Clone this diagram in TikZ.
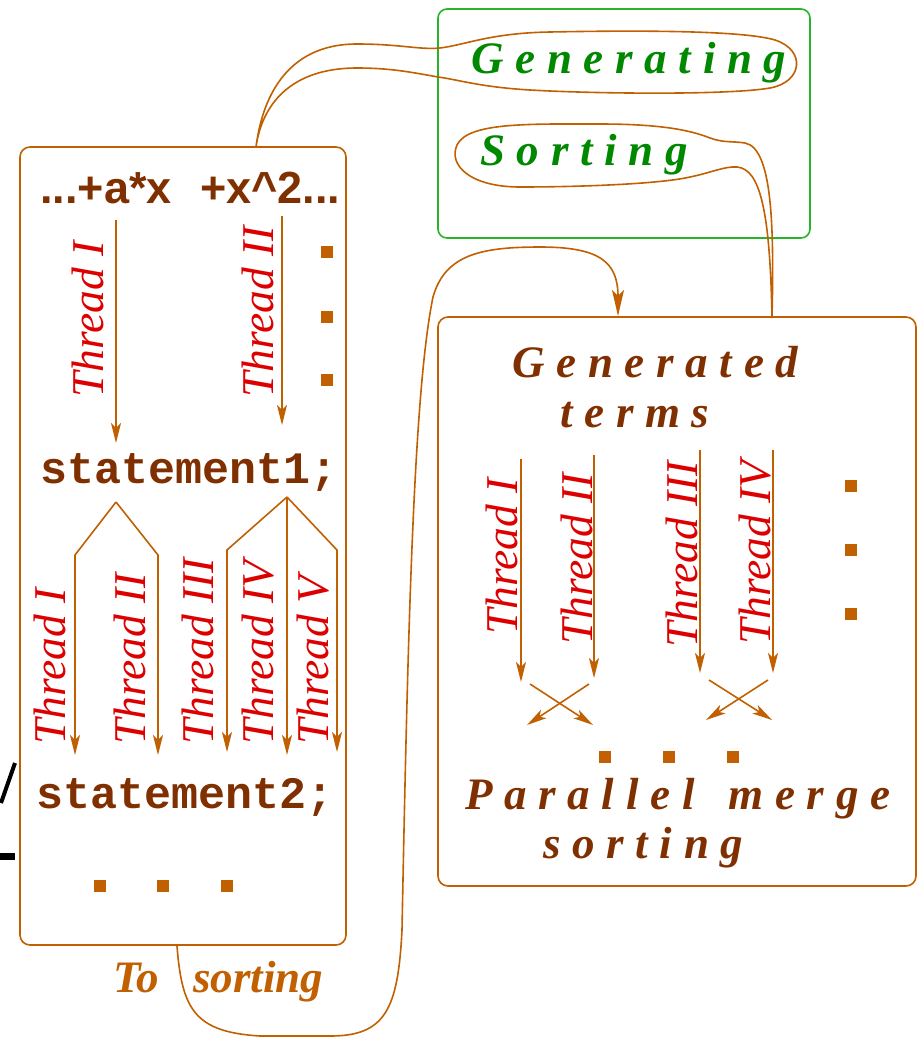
\documentclass[tikz,border=0pt]{standalone}
\usepackage{fontspec}
\setmainfont{Liberation Serif}
\newfontfamily\exprfont{Liberation Sans}
\newfontfamily\codefont{Liberation Mono}
\newfontfamily\widefont[LetterSpace=26]{Liberation Serif}
\usetikzlibrary{arrows.meta}
\definecolor{ochre}{RGB}{192,96,0}
\definecolor{darkbrown}{RGB}{128,48,0}
\definecolor{threadred}{RGB}{220,0,0}
\definecolor{leafgreen}{RGB}{0,136,0}
\definecolor{boxgreen}{RGB}{40,180,40}
\tikzset{
  panel/.style={draw=ochre, line width=1.6pt, rounded corners=10pt},
  greenpanel/.style={draw=boxgreen, line width=1.6pt, rounded corners=9pt},
  link/.style={draw=ochre, line width=1.6pt},
  flow/.style={link, -{Stealth[length=20pt,width=10pt,inset=5pt]}},
  bigflow/.style={link, -{Stealth[length=26pt,width=12pt,inset=6pt]}},
  txt/.style={anchor=base west, inner sep=0pt},
  threadlbl/.style={txt, rotate=90, text=threadred, font=\fontsize{45.5}{45}\selectfont\itshape},
  exprlbl/.style={txt, text=darkbrown, font=\exprfont\bfseries\fontsize{45}{45}\selectfont},
  codelbl/.style={txt, text=darkbrown, font=\codefont\bfseries\fontsize{45}{44}\selectfont},
  widelbl/.style={txt, font=\widefont\bfseries\itshape\fontsize{45}{45}\selectfont},
  plainlbl/.style={txt, text=ochre, font=\bfseries\itshape\fontsize{45}{45}\selectfont},
  dot/.style={rectangle, fill=ochre, minimum size=12pt, inner sep=0pt},
}
\begin{document}
\begin{tikzpicture}[x=1pt, y=-1pt]
\useasboundingbox (0,0) rectangle (918,1037);

% ---------- panels ----------
\draw[panel] (20,147) rectangle (346,945);
\draw[greenpanel] (438,9) rectangle (810,238);
\draw[panel] (438,317) rectangle (916,886);

% ---------- left panel: source expression and statements ----------
\node[exprlbl] (ax) at (40,203) {...+a*x};
\node[exprlbl] (xx) at (200,203) {+x\char`\^2...};
\node[codelbl] (st1) at (40,483) {statement1;};
\node[codelbl] (st2) at (36,808) {statement2;};

% threads over the expression
\coordinate (t1s) at (116,220); \coordinate (t1e) at (116,443);
\coordinate (t2s) at (282,216); \coordinate (t2e) at (282,425);
\draw[flow] (t1s) -- (t1e);
\draw[flow] (t2s) -- (t2e);
\node[threadlbl] (lt1) at (103,398) {Thread I};
\node[threadlbl] (lt2) at (273,398) {Thread II};
\node[dot] (ld1) at (327,252) {};
\node[dot] (ld2) at (327,317) {};
\node[dot] (ld3) at (327,380) {};

% threads forking below statement1
\coordinate (fa) at (116,502);
\coordinate (fb) at (287,497);
\draw[flow] (fa) -- (75,555) -- (75,755);
\draw[flow] (fa) -- (158,555) -- (158,755);
\draw[flow] (fb) -- (227,550) -- (227,752);
\draw[flow] (fb) -- (287,755);
\draw[flow] (fb) -- (337,550) -- (337,752);
\node[threadlbl] (lf1) at (65,745) {Thread I};
\node[threadlbl] (lf2) at (145,745) {Thread II};
\node[threadlbl] (lf3) at (213,745) {Thread III};
\node[threadlbl] (lf4) at (273,745) {Thread IV};
\node[threadlbl] (lf5) at (328,745) {Thread V};

\node[dot] (bd1) at (100,886) {};
\node[dot] (bd2) at (163,886) {};
\node[dot] (bd3) at (227,886) {};

% ---------- green panel ----------
\node[widelbl, text=leafgreen] (gen) at (471,73) {Generating};
\node[widelbl, text=leafgreen] (srt) at (480,165) {Sorting};

% ---------- right panel ----------
\node[widelbl, text=darkbrown] (gt1) at (512,377) {Generated};
\node[widelbl, text=darkbrown] (gt2) at (560,427) {terms};

\draw[flow] (521,459) -- (521,682);
\draw[flow] (594,455) -- (594,678);
\draw[flow] (700,450) -- (700,673);
\draw[flow] (773,450) -- (773,673);
\node[threadlbl] (rt1) at (517,635) {Thread I};
\node[threadlbl] (rt2) at (592,645) {Thread II};
\node[threadlbl] (rt3) at (697,648) {Thread III};
\node[threadlbl] (rt4) at (770,645) {Thread IV};
\node[dot] (rd1) at (851,486) {};
\node[dot] (rd2) at (851,550) {};
\node[dot] (rd3) at (851,614) {};

% merging steps
\draw[flow] (530,684) -- (593,725);
\draw[flow] (589,684) -- (527,725);
\draw[flow] (709,680) -- (772,720);
\draw[flow] (768,680) -- (706,720);
\node[dot] (md1) at (605,757) {};
\node[dot] (md2) at (669,757) {};
\node[dot] (md3) at (733,757) {};

\node[widelbl, text=darkbrown] (pm1) at (465,809) {Parallel\hspace{11pt} merge};
\node[widelbl, text=darkbrown] (pm2) at (543,858) {sorting};

% ---------- connectors ----------
% loop from the expression around "Generating"
\coordinate (gstart) at (256,147);
\draw[link] (gstart)
  .. controls (262,100) and (285,44) .. (357,44)
  .. controls (400,44) and (420,50) .. (440,48)
  .. controls (465,45) and (490,33) .. (550,32)
  .. controls (650,30) and (745,31) .. (775,40)
  .. controls (806,50) and (803,82) .. (770,88)
  .. controls (730,95) and (600,94) .. (530,90)
  .. controls (480,87) and (460,80) .. (438,77)
  .. controls (410,72) and (390,68) .. (357,68)
  .. controls (290,68) and (262,105) .. (gstart);

% loop around "Sorting" down to the right panel
\coordinate (sstart) at (772,318);
\draw[link] (sstart)
  .. controls (774,230) and (773,148) .. (745,143)
  .. controls (732,141) and (724,143) .. (710,138)
  .. controls (690,130) and (660,124) .. (600,124)
  .. controls (530,124) and (468,122) .. (457,145)
  .. controls (448,165) and (470,187) .. (520,187)
  .. controls (580,187) and (660,184) .. (690,177)
  .. controls (710,173) and (725,166) .. (737,167)
  .. controls (760,169) and (770,210) .. (sstart);

% from the left panel to sorting
\coordinate (tsa) at (177,946);
\coordinate (tsb) at (618,316);
\draw[bigflow] (tsa)
  .. controls (182,1010) and (195,1032) .. (260,1036)
  -- (330,1036)
  .. controls (385,1036) and (398,1010) .. (402,930)
  .. controls (408,620) and (414,390) .. (433,297)
  .. controls (445,255) and (480,247) .. (540,247)
  .. controls (600,247) and (618,262) .. (tsb);
\node[plainlbl] (to) at (113,992) {To};
\node[plainlbl] (sorting) at (193,992) {sorting};

% ink at the left edge
\draw[line width=4pt] (1,803) -- (15,763);
\fill (0,853) rectangle (15,860);
\end{tikzpicture}
\end{document}
